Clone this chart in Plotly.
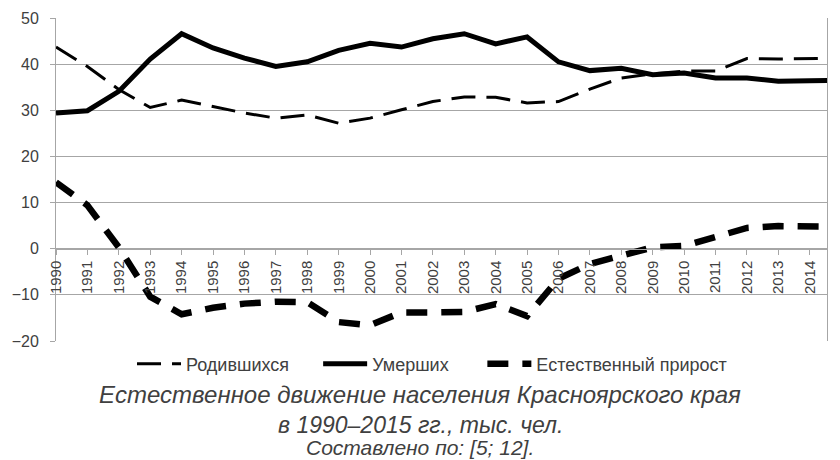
import plotly.graph_objects as go

years = list(range(1990, 2016))

births = [43.7, 39.5, 34.5, 30.6, 32.2, 30.8, 29.4, 28.3, 29.0, 27.2, 28.3, 30.1, 31.9,
          32.9, 32.8, 31.6, 31.9, 34.6, 37.0, 37.9, 38.5, 38.5, 41.2, 41.1, 41.2, 41.3]
deaths = [29.4, 29.9, 34.1, 41.1, 46.6, 43.5, 41.3, 39.5, 40.5, 43.0, 44.5, 43.7, 45.5,
          46.6, 44.4, 45.9, 40.5, 38.6, 39.1, 37.7, 38.1, 37.0, 37.0, 36.3, 36.4, 36.5]
natural = [14.4, 9.4, 0.3, -10.4, -14.2, -12.8, -11.9, -11.5, -11.6, -15.9, -16.6, -13.8, -13.8,
           -13.7, -12.0, -14.6, -6.5, -3.3, -1.5, 0.3, 0.6, 2.4, 4.5, 4.9, 4.9, 4.8]

names = ["Родившихся", "Умерших", "Естественный прирост"]
title_lines = ["Естественное движение населения Красноярского края",
               "в 1990–2015 гг., тыс. чел."]
source = "Составлено по: [5; 12]."

y_min, y_max = -20, 50
x_min, x_max = 1990, 2014.55

txt = "#404040"
grid = "#a6a6a6"
font = "Liberation Sans, Arial, sans-serif"

# page body adds an 8px offset, so the figure is 8px smaller than the window
W, H = 832, 452

fig = go.Figure()
fig.add_trace(go.Scatter(x=years, y=births, mode="lines", name=names[0], legend="legend",
                         line=dict(color="black", width=3, dash="24px,11px")))
fig.add_trace(go.Scatter(x=years, y=deaths, mode="lines", name=names[1], legend="legend2",
                         line=dict(color="black", width=5)))
fig.add_trace(go.Scatter(x=years, y=natural, mode="lines", name=names[2], legend="legend3",
                         line=dict(color="black", width=6.5, dash="21px,14px")))

# one legend per series so each entry can sit where the original has it
leg = dict(orientation="h", xanchor="left", y=-0.071, yanchor="middle",
           font=dict(size=18), itemwidth=44)

fig.update_layout(
    width=W, height=H,
    margin=dict(l=48, r=13, t=10, b=119, autoexpand=False),
    paper_bgcolor="white", plot_bgcolor="white",
    font=dict(family=font, color=txt, size=15),
    showlegend=True,
    legend=dict(leg, x=0.0986),
    legend2=dict(leg, x=0.340),
    legend3=dict(leg, x=0.553),
)

fig.update_yaxes(range=[y_min, y_max], dtick=10, showgrid=True, gridcolor=grid, gridwidth=1,
                 zeroline=False, showline=True, linecolor=grid, linewidth=1, mirror=True,
                 ticks="outside", ticklen=5, tickcolor=grid, ticklabelstandoff=8,
                 automargin=False, tickfont=dict(size=16, color=txt))

fig.update_xaxes(range=[x_min, x_max], tickmode="array", tickvals=years[:-1],
                 ticktext=[str(y) for y in years[:-1]], tickangle=-90,
                 showgrid=False, zeroline=False, showline=True, linecolor=grid, linewidth=1,
                 ticks="outside", ticklen=5, tickcolor=grid, automargin=False,
                 anchor="free", position=(0 - y_min) / (y_max - y_min),
                 tickfont=dict(size=15, color=txt))

# the last year label sits just past the plot edge, as in the original
fig.add_annotation(text=str(years[-1]), xref="paper", yref="y",
                   x=(years[-1] - x_min) / (x_max - x_min), y=0, yshift=-6,
                   textangle=-90, showarrow=False, xanchor="center", yanchor="top",
                   font=dict(size=15, color=txt))

cx = (420 - 56) / 771
fig.add_annotation(text="<i>" + title_lines[0] + "</i>", xref="paper", yref="paper",
                   x=cx, y=-0.167, showarrow=False, yanchor="middle",
                   font=dict(size=24, color=txt))
fig.add_annotation(text="<i>" + title_lines[1] + "</i>", xref="paper", yref="paper",
                   x=cx, y=-0.260, showarrow=False, yanchor="middle",
                   font=dict(size=23, color=txt))
fig.add_annotation(text="<i>" + source + "</i>", xref="paper", yref="paper",
                   x=cx, y=-0.330, showarrow=False, yanchor="middle",
                   font=dict(size=21, color=txt))

fig.write_html("out.html")
